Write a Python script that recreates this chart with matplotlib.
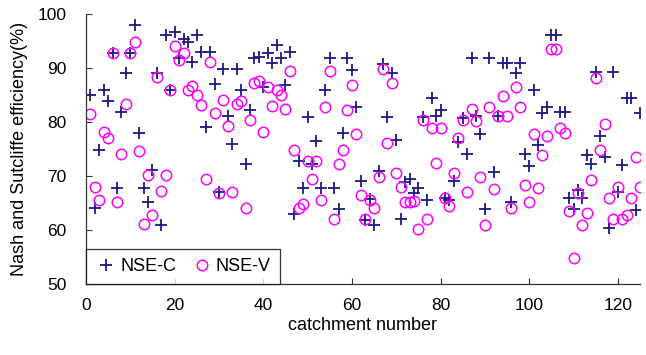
import matplotlib

matplotlib.use("Agg")
import matplotlib.pyplot as plt
import numpy as np

plt.rcParams["font.family"] = ["Liberation Sans", "DejaVu Sans"]

# catchment numbers 1..125
catchments = list(range(1, 126))

nse_c = [
    85.0, 64.0, 74.8, 86.0, 83.8, 92.8, 67.7, 81.9, 89.0, 92.8,
    98.0, 77.9, 67.7, 65.1, 71.1, 89.0, 60.9, 96.1, 85.9, 96.7,
    91.8, 95.3, 94.8, 91.2, 96.1, 93.0, 79.1, 93.0, 87.0, 67.1,
    89.8, 81.1, 75.9, 89.8, 86.0, 72.2, 82.3, 91.8, 92.1, 86.4,
    92.7, 90.9, 94.3, 91.8, 86.9, 93.0, 63.0, 72.8, 67.7, 81.0,
    72.3, 76.4, 67.7, 85.9, 91.8, 67.7, 63.8, 77.9, 91.8, 89.6,
    82.8, 69.0, 61.9, 65.7, 60.9, 70.9, 90.8, 81.0, 89.1, 76.7,
    62.0, 68.9, 69.4, 66.9, 67.7, 81.0, 65.6, 84.4, 81.1, 82.3,
    66.0, 65.6, 69.1, 76.3, 80.7, 74.0, 91.8, 81.1, 77.8, 63.8,
    91.8, 70.8, 81.1, 91.0, 91.0, 65.1, 89.0, 91.0, 74.1, 71.9,
    85.9, 75.7, 81.6, 82.7, 96.1, 96.1, 81.9, 81.9, 65.9, 63.8,
    67.4, 65.9, 73.8, 72.3, 89.3, 77.4, 73.6, 60.3, 89.3, 67.1,
    72.0, 84.4, 84.4, 63.7, 81.6,
]

nse_v = [
    81.5, 68.0, 65.6, 78.2, 77.1, 92.8, 65.1, 74.1, 83.3, 92.8,
    94.9, 74.7, 61.2, 70.1, 62.8, 88.4, 67.2, 70.1, 85.9, 94.0,
    91.5, 92.7, 85.9, 86.7, 85.0, 83.1, 69.4, 91.2, 81.6, 66.9,
    84.0, 79.3, 67.1, 83.3, 83.8, 64.0, 80.4, 87.2, 87.5, 78.2,
    86.5, 83.0, 85.9, 85.0, 82.4, 89.4, 74.9, 64.0, 64.9, 72.7,
    69.4, 72.7, 65.6, 82.7, 89.4, 62.0, 72.2, 74.9, 82.2, 86.9,
    77.8, 66.5, 62.0, 65.6, 64.0, 69.8, 89.9, 76.2, 87.2, 70.5,
    67.9, 65.1, 65.1, 65.4, 60.1, 80.4, 62.0, 78.8, 72.5, 78.8,
    66.0, 64.4, 70.5, 77.0, 80.4, 67.1, 82.4, 80.1, 69.8, 60.9,
    82.7, 67.6, 81.1, 84.8, 81.1, 64.0, 86.4, 82.7, 68.4, 65.1,
    77.8, 67.8, 73.9, 77.4, 93.6, 93.6, 78.8, 78.0, 63.6, 54.8,
    66.9, 60.9, 63.1, 69.3, 88.1, 74.9, 79.6, 65.9, 62.0, 67.9,
    62.0, 62.8, 66.0, 73.5, 67.9,
]

x_ticks = [0, 20, 40, 60, 80, 100, 120]
y_ticks = [50, 60, 70, 80, 90, 100]


def main():
    fig = plt.figure(figsize=(6.46, 3.55), dpi=100)
    ax = fig.add_axes([86 / 646, 1 - 284 / 355, 554 / 646, 270 / 355])

    ax.plot(catchments, nse_c, linestyle="none", marker="+", color="#1a1a80",
            markersize=9, markeredgewidth=1.3, label="NSE-C")
    ax.plot(catchments, nse_v, linestyle="none", marker="o", color="#ff00ff",
            markerfacecolor="none", markersize=7.5, markeredgewidth=1.1,
            label="NSE-V")

    ax.set_xlim(0, 125)
    ax.set_ylim(50, 100)
    ax.set_xticks(x_ticks)
    ax.set_yticks(y_ticks)

    for side in ["top", "right"]:
        ax.spines[side].set_visible(False)
    for side in ["left", "bottom"]:
        ax.spines[side].set_color("#333333")
        ax.spines[side].set_linewidth(0.9)

    ax.tick_params(axis="both", direction="in", length=4, width=0.8,
                   labelsize=12.5, color="#333333")
    ax.tick_params(axis="y", pad=14)
    ax.tick_params(axis="x", pad=10)

    ax.set_xlabel("catchment number", fontsize=13, labelpad=3)
    ax.set_ylabel("Nash and Sutcliffe efficiency(%)", fontsize=13, labelpad=7)

    leg = ax.legend(loc="lower left", bbox_to_anchor=(0, 0, 194 / 554, 41 / 270),
                    mode="expand", ncol=2, fontsize=13, frameon=True,
                    fancybox=False, borderaxespad=0, handletextpad=0.2,
                    handlelength=1.2, borderpad=0.5, columnspacing=1.0)
    leg.get_frame().set_edgecolor("black")
    leg.get_frame().set_linewidth(0.9)

    fig.savefig("out.png", dpi=100)


if __name__ == "__main__":
    main()
